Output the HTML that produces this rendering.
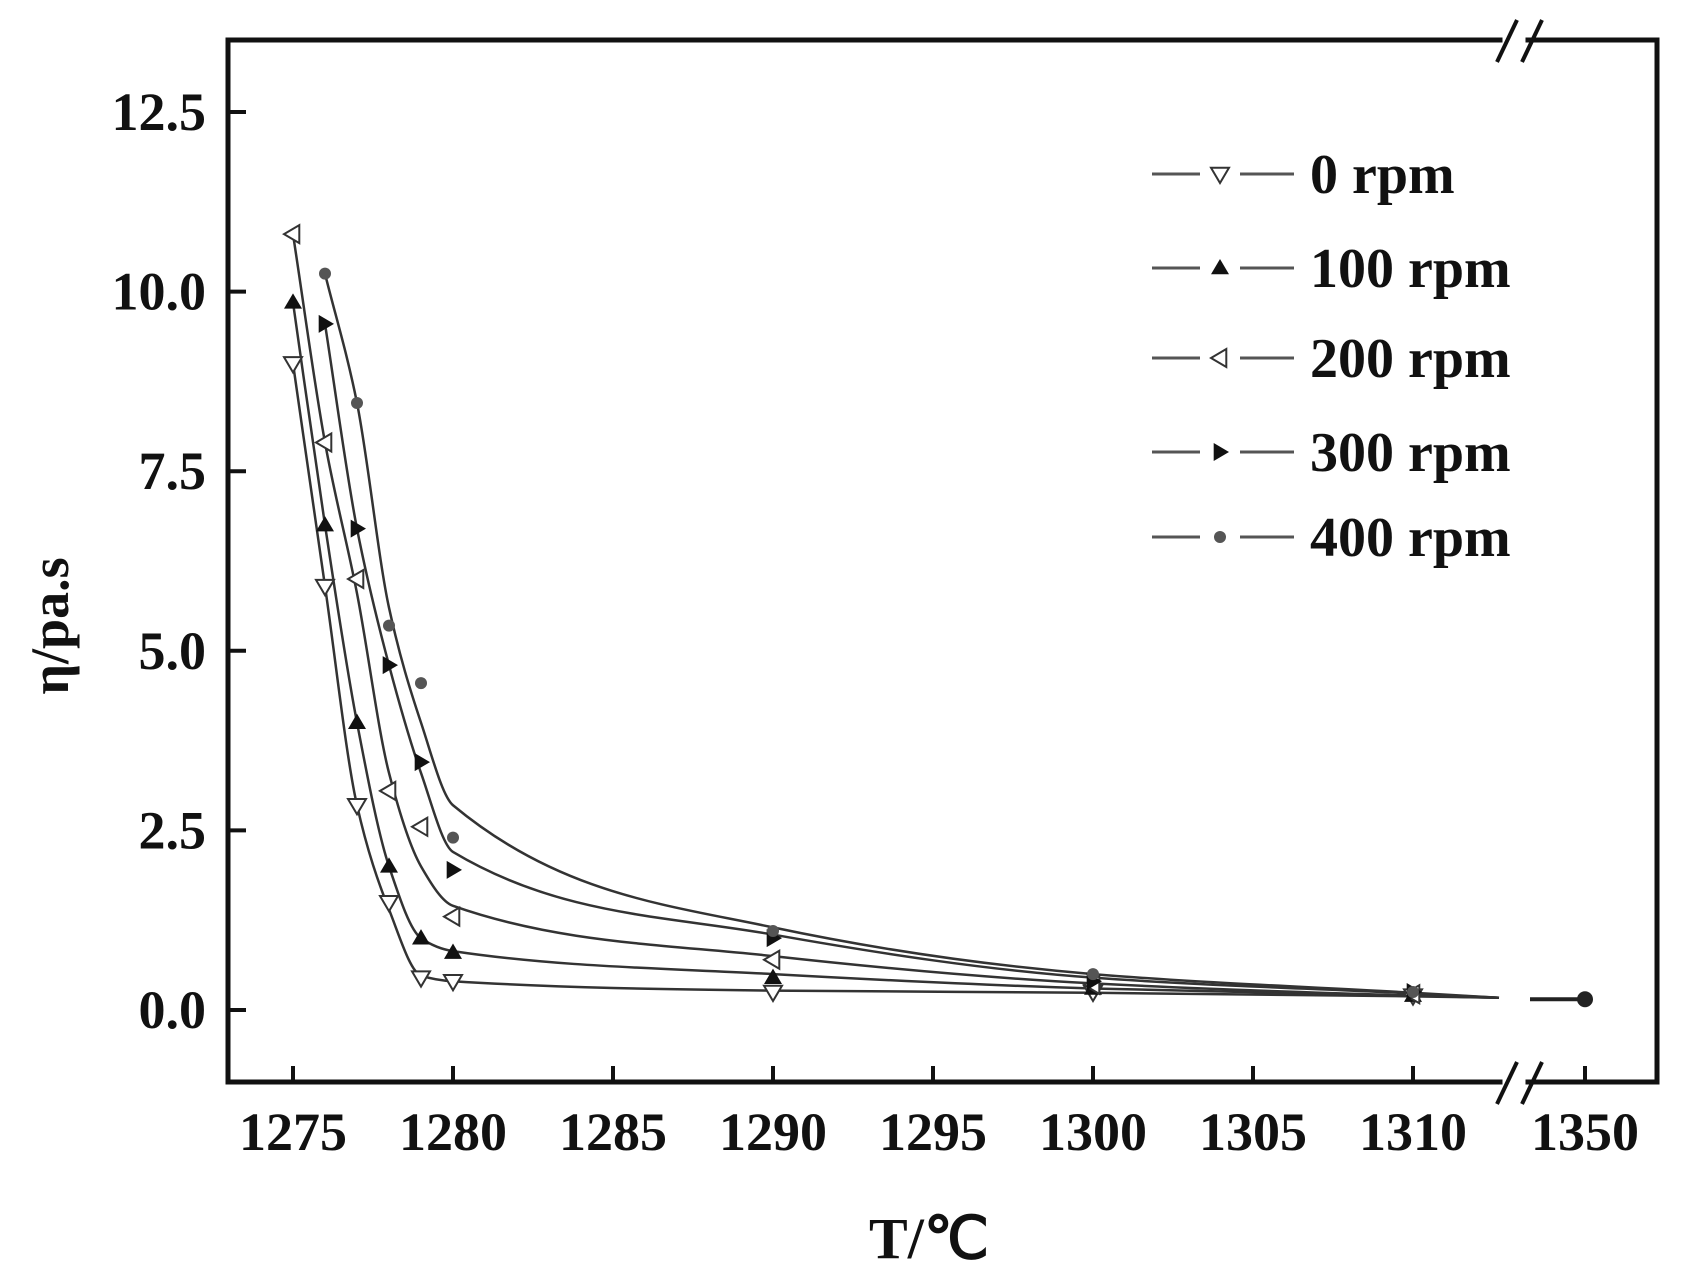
<!DOCTYPE html>
<html><head><meta charset="utf-8"><style>
html,body{margin:0;padding:0;background:#fff;}
svg{display:block;}
text{font-family:"Liberation Serif",serif;font-weight:bold;fill:#111;}
</style></head><body>
<svg id="s" width="1691" height="1280" viewBox="0 0 1691 1280" xmlns="http://www.w3.org/2000/svg">
<g stroke="#111" stroke-width="5" fill="none" stroke-linecap="square">
<path d="M228 40 L1500 40 M1528 40 L1657 40 L1657 1082 L1528 1082 M1500 1082 L228 1082 L228 40"/>
</g>
<g stroke="#111" stroke-width="4">
<line x1="1497" y1="62" x2="1517" y2="20"/><line x1="1522" y1="62" x2="1542" y2="20"/>
<line x1="1497" y1="1104" x2="1517" y2="1062"/><line x1="1522" y1="1104" x2="1542" y2="1062"/>
</g>
<g id="ticks" stroke="#111" stroke-width="4"></g>
<g id="labels" font-size="54"></g>
<text x="929" y="1258" font-size="58" text-anchor="middle" font-weight="normal">T/℃</text>
<text transform="translate(68,626) rotate(-90)" font-size="54" text-anchor="middle">η/pa.s</text>
<g id="curves" fill="none" stroke="#333" stroke-width="2.5"></g>
<g id="marks"></g>
<g id="legend" font-size="56"></g>
</svg>
<script>
var NS="http://www.w3.org/2000/svg";
function X(t){return t==1350?1585:293+32*(t-1275);}
function Y(v){return 1010-71.84*v;}
function el(p,tag,a,txt){var e=document.createElementNS(NS,tag);for(var k in a)e.setAttribute(k,a[k]);if(txt!==undefined)e.textContent=txt;document.getElementById(p).appendChild(e);return e;}
var xt=[1275,1280,1285,1290,1295,1300,1305,1310,1350];
xt.forEach(function(t){el("ticks","line",{x1:X(t),y1:1082,x2:X(t),y2:1066});el("labels","text",{x:X(t),y:1150,"text-anchor":"middle"},String(t));});
[0,2.5,5,7.5,10,12.5].forEach(function(v){el("ticks","line",{x1:228,y1:Y(v),x2:246,y2:Y(v)});el("labels","text",{x:206,y:Y(v)+18,"text-anchor":"end"},v.toFixed(1));});
var S=[
 {m:"dn",d:[[1275,9.0],[1276,5.9],[1277,2.85],[1278,1.5],[1279,0.45],[1280,0.4],[1290,0.25],[1300,0.25],[1310,0.2]],c:[[1275,9.0],[1276,5.9],[1277,2.85],[1278,1.4],[1279,0.48],[1280,0.4],[1290,0.27],[1300,0.24],[1310,0.19]]},
 {m:"up",d:[[1275,9.85],[1276,6.75],[1277,4.0],[1278,2.0],[1279,1.0],[1280,0.8],[1290,0.45],[1300,0.3],[1310,0.2]],c:[[1275,9.85],[1276,6.75],[1277,4.0],[1278,2.0],[1279,1.0],[1280,0.82],[1290,0.5],[1300,0.3],[1310,0.2]]},
 {m:"lt",d:[[1275,10.8],[1276,7.9],[1277,6.0],[1278,3.05],[1279,2.55],[1280,1.3],[1290,0.7],[1300,0.35],[1310,0.22]],c:[[1275,10.8],[1276,7.9],[1277,5.8],[1278,3.3],[1279,2.0],[1280,1.45],[1290,0.75],[1300,0.37],[1310,0.2]]},
 {m:"rt",d:[[1276,9.55],[1277,6.7],[1278,4.8],[1279,3.45],[1280,1.95],[1290,1.0],[1300,0.4],[1310,0.25]],c:[[1276,9.55],[1277,6.7],[1278,4.8],[1279,3.3],[1280,2.2],[1290,1.05],[1300,0.45],[1310,0.23]]},
 {m:"st",d:[[1276,10.25],[1277,8.45],[1278,5.35],[1279,4.55],[1280,2.4],[1290,1.1],[1300,0.5],[1310,0.25]],c:[[1276,10.25],[1277,8.45],[1278,5.6],[1279,4.0],[1280,2.85],[1290,1.15],[1300,0.5],[1310,0.24]]}
];
function mk(g,type,x,y){
 var r=9;
 if(type=="dn")el(g,"path",{d:"M"+(x-r)+" "+(y-r*0.7)+"L"+(x+r)+" "+(y-r*0.7)+"L"+x+" "+(y+r)+"Z",fill:"#fff",stroke:"#333","stroke-width":2});
 if(type=="up")el(g,"path",{d:"M"+(x-r)+" "+(y+r*0.7)+"L"+(x+r)+" "+(y+r*0.7)+"L"+x+" "+(y-r)+"Z",fill:"#111"});
 if(type=="lt")el(g,"path",{d:"M"+(x+r*0.7)+" "+(y-r)+"L"+(x+r*0.7)+" "+(y+r)+"L"+(x-r)+" "+y+"Z",fill:"#fff",stroke:"#333","stroke-width":2});
 if(type=="rt")el(g,"path",{d:"M"+(x-r*0.7)+" "+(y-r)+"L"+(x-r*0.7)+" "+(y+r)+"L"+(x+r)+" "+y+"Z",fill:"#111"});
 if(type=="st")el(g,"circle",{cx:x,cy:y,r:6,fill:"#555"});
}
function mono(p){
 var n=p.length,dx=[],m=[],t=[];
 for(var i=0;i<n-1;i++){dx[i]=p[i+1][0]-p[i][0];m[i]=(p[i+1][1]-p[i][1])/dx[i];}
 t[0]=m[0];t[n-1]=m[n-2];
 for(i=1;i<n-1;i++){ if(m[i-1]*m[i]<=0)t[i]=0; else {var w1=2*dx[i]+dx[i-1],w2=dx[i]+2*dx[i-1];t[i]=(w1+w2)/(w1/m[i-1]+w2/m[i]);}}
 var d="M"+p[0][0]+" "+p[0][1];
 for(i=0;i<n-1;i++){var h=dx[i]/3;
  d+="C"+(p[i][0]+h)+" "+(p[i][1]+t[i]*h)+" "+(p[i+1][0]-h)+" "+(p[i+1][1]-t[i+1]*h)+" "+p[i+1][0]+" "+p[i+1][1];}
 return d;
}
S.forEach(function(s){
 var p=s.c.map(function(q){return [X(q[0]),Y(q[1])];});
 p.push([1499,Y(0.17)]);
 el("curves","path",{d:mono(p)});
 s.d.forEach(function(q){mk("marks",s.m,X(q[0]),Y(q[1]));});
});
el("curves","line",{x1:1530,y1:Y(0.15),x2:1585,y2:Y(0.15),"stroke-width":4,stroke:"#222"});
el("marks","circle",{cx:1585,cy:Y(0.15),r:8,fill:"#222"});
var L=[["dn","0 rpm",174],["up","100 rpm",268],["lt","200 rpm",358],["rt","300 rpm",452],["st","400 rpm",537]];
L.forEach(function(l){
 el("legend","line",{x1:1152,y1:l[2],x2:1200,y2:l[2],stroke:"#555","stroke-width":3});
 el("legend","line",{x1:1240,y1:l[2],x2:1294,y2:l[2],stroke:"#555","stroke-width":3});
 mk("legend",l[0],1220,l[2]);
 el("legend","text",{x:1310,y:l[2]+19},l[1]);
});
</script>
</body></html>
